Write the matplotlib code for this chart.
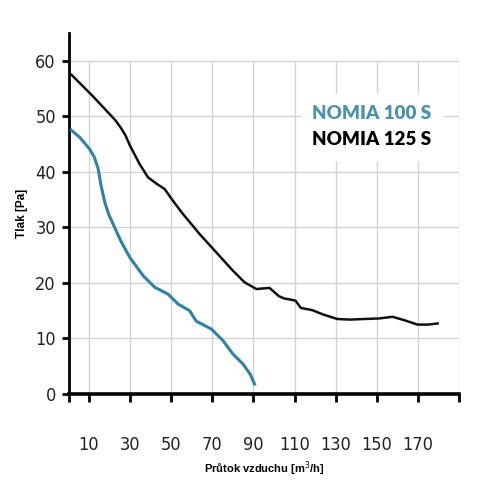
import matplotlib
matplotlib.use("Agg")
import matplotlib.pyplot as plt

# NOMIA 125 S (black)
flow_125 = [1.4, 11.9, 20, 23, 25.7, 27.8, 29.8, 34.6, 38.7, 42.7, 46.8, 50.8, 55.7, 63.8,
            71.9, 80, 85.7, 91.4, 94.5, 97.8, 102.4, 105, 108, 110.5, 113, 118.6, 124,
            130.8, 137, 143.8, 151, 157.7, 163.3, 169.8, 175, 179.6]
pressure_125 = [57.5, 53.6, 50.4, 49.2, 47.8, 46.5, 44.8, 41.4, 39, 37.9, 36.9, 34.8, 32.4,
                28.8, 25.5, 22.2, 20.1, 18.9, 19.0, 19.1, 17.6, 17.2, 17.0, 16.8, 15.5, 15.1,
                14.3, 13.5, 13.4, 13.5, 13.6, 13.9, 13.3, 12.5, 12.5, 12.7]

# NOMIA 100 S (blue)
flow_100 = [1.4, 5.5, 10.3, 12.6, 14.4, 15.8, 17.6, 19.5, 21.7, 25.5, 29.8, 36.3, 42, 48.4,
            53.3, 58.9, 62.2, 69.5, 75.2, 80, 84.9, 88.5, 90.5]
pressure_100 = [47.5, 46.2, 44.1, 42.6, 40.6, 37.6, 34.6, 32.4, 30.6, 27.5, 24.6, 21.3, 19.2,
                18, 16.2, 15, 13.1, 11.7, 9.6, 7.2, 5.4, 3.5, 1.8]

xticks = [10, 30, 50, 70, 90, 110, 130, 150, 170]
yticks = [0, 10, 20, 30, 40, 50, 60]
grid_x = xticks + [190]
series_names = ["NOMIA 100 S", "NOMIA 125 S"]

fig = plt.figure(figsize=(5, 5), dpi=100)
ax = fig.add_axes([0.137, 0.212, 0.781, 0.722])

# grid only up to 60 Pa
ax.hlines(yticks[1:], 0, 190, color="#d4d4d4", lw=1, zorder=0)
ax.vlines(grid_x, 0, 60, color="#d4d4d4", lw=1, zorder=0)

ax.plot(flow_100, pressure_100, color="#2f82a6", lw=2.2, label=series_names[0], zorder=3)
ax.plot(flow_125, pressure_125, color="#111111", lw=1.8, label=series_names[1], zorder=3)

ax.set_xlim(0, 190)
ax.set_ylim(0, 65)

for s in ["top", "right"]:
    ax.spines[s].set_visible(False)
ax.spines["left"].set_linewidth(2)
ax.spines["bottom"].set_linewidth(2.6)

tick_kw = dict(fontsize=13, family="DejaVu Sans", fontstretch="condensed", color="#222222")
ax.set_xticks(xticks)
ax.set_xticklabels([str(v) for v in xticks], **tick_kw)
ax.set_yticks(yticks)
ax.set_yticklabels([str(v) for v in yticks], **tick_kw)
ax.set_xticks([0, 190], minor=True)
ax.tick_params(axis="x", which="both", direction="out", length=6, width=2, pad=24)
ax.tick_params(axis="y", direction="out", length=5, width=2, pad=4)

ax.set_ylabel("Tlak [Pa]", fontsize=8.5, fontweight="bold", family="Liberation Sans", labelpad=5)
ax.set_xlabel("Průtok vzduchu [m$^3$/h]", fontsize=8, fontweight="bold",
              family="Liberation Sans", labelpad=4)

leg = ax.legend(loc="upper left", bbox_to_anchor=(0.572, 0.858), handlelength=0, handletextpad=0,
                frameon=True, framealpha=1, edgecolor="white", fancybox=False,
                borderpad=0.6, labelspacing=0.5,
                prop={"family": ["Lato", "DejaVu Sans"], "weight": "heavy", "size": 13.5})
for h in leg.legend_handles:
    h.set_visible(False)
leg.get_texts()[0].set_color("#4a92ad")
leg.get_texts()[1].set_color("#000000")

fig.savefig("out.png", dpi=100)
